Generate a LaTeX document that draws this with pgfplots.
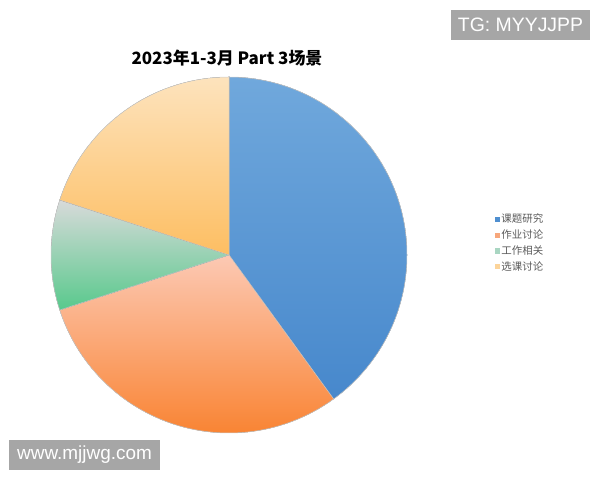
\documentclass[border=0pt]{standalone}
\usepackage{fontspec}
\setmainfont{Noto Sans CJK SC}
\newfontfamily\wmfont{Liberation Sans}
\usepackage{pgfplots}
\usepackage{pgfplotstable}
\pgfplotsset{compat=1.18}

% slice colours: top and bottom of each gradient
\definecolor{ct0}{HTML}{70A8DC}
\definecolor{cb0}{HTML}{4788CC}
\definecolor{ct1}{HTML}{FCC9B4}
\definecolor{cb1}{HTML}{F9802C}
\definecolor{ct2}{HTML}{D8DADA}
\definecolor{cb2}{HTML}{58C98C}
\definecolor{ct3}{HTML}{FDE3BD}
\definecolor{cb3}{HTML}{FDBE62}
\definecolor{lg0}{HTML}{4F8FD0}
\definecolor{lg1}{HTML}{F7A77C}
\definecolor{lg2}{HTML}{A9D6C2}
\definecolor{lg3}{HTML}{FCD49A}
\definecolor{wmgray}{HTML}{A6A6A6}

\pgfplotstableread{
label value
课题研究 40
作业讨论 30
工作相关 10
选课讨论 20
}\piedata

\begin{document}
\begin{tikzpicture}
\begin{axis}[
  x=1bp, y=1bp, xmin=0, xmax=600, ymin=0, ymax=480,
  disabledatascaling, scale only axis, hide axis, clip=false,
  legend style={draw=none, fill=none, at={(0.819,0.563)}, anchor=north west,
    font=\fontsize{10.5}{12}\selectfont, text=black!65, row sep=1.5bp,
    legend cell align=left},
  legend image code/.code={\fill[#1] (0.5bp,-2.2bp) rectangle (4.9bp,2.2bp);},
]
% page frame
\path (axis cs:0,0) rectangle (axis cs:600,480);
\def\angA{90}
\pgfplotsforeachungrouped \i in {0,...,3} {
  \pgfplotstablegetelem{\i}{value}\of\piedata
  \pgfmathsetmacro\angB{\angA-3.6*\pgfplotsretval}
  \edef\doslice{\noexpand\fill[top color=ct\i, bottom color=cb\i]
    (axis cs:229,225) -- ++(\angA:178bp) arc[start angle=\angA, end angle=\angB, radius=178bp] -- cycle;
    \noexpand\draw[white!80!black, line width=0.5bp]
    (axis cs:229,225) -- ++(\angA:178bp) arc[start angle=\angA, end angle=\angB, radius=178bp] -- cycle;}
  \doslice
  \pgfplotstablegetelem{\i}{label}\of\piedata
  \edef\dolegend{\noexpand\addlegendimage{lg\i}\noexpand\addlegendentry{\pgfplotsretval}}
  \dolegend
  \let\angA\angB
}
\node[font=\bfseries\fontsize{17}{20}\selectfont] at (axis cs:227,422) {2023年1-3月 Part 3场景};
\node[fill=wmgray, text=white, font=\wmfont\fontsize{19.5}{22}\selectfont,
  minimum width=139bp, minimum height=30bp, inner sep=0pt] at (axis cs:520.5,455) {TG: MYYJJPP};
\node[fill=wmgray, text=white, font=\wmfont\fontsize{19}{22}\selectfont,
  minimum width=150bp, minimum height=30bp, inner sep=0pt] at (axis cs:84.5,25) {www.mjjwg.com};
\end{axis}
\end{tikzpicture}
\end{document}
